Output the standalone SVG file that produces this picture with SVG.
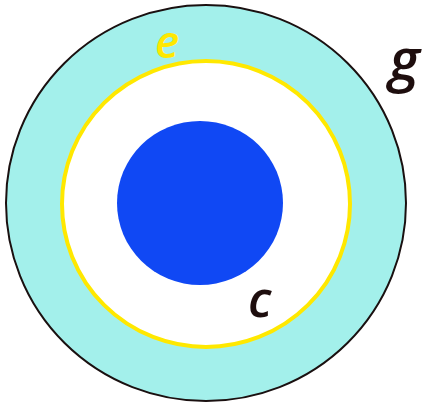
<svg xmlns="http://www.w3.org/2000/svg" width="428" height="405" viewBox="0 0 428 405">
<style>
.lbl{font-family:"Open Sans","Noto Sans","Liberation Sans",sans-serif;font-style:italic;font-weight:600}
</style>
<rect width="428" height="405" fill="#ffffff"/>
<g id="g-region">
<ellipse cx="206" cy="203" rx="200" ry="198" fill="#a3f0eb" stroke="#1a1010" stroke-width="2"/>
<text class="lbl" x="389" y="80" font-size="58" fill="#1e0e0e">g</text>
</g>
<g id="e-region">
<ellipse cx="206" cy="204" rx="144" ry="143" fill="#ffffff" stroke="#ffe800" stroke-width="4"/>
<text class="lbl" x="155" y="58" font-size="46" fill="#ffe800">e</text>
</g>
<g id="c-region">
<ellipse cx="200" cy="203" rx="83" ry="82" fill="#1048f4"/>
<text class="lbl" x="248" y="317" font-size="50" fill="#1e0e0e">c</text>
</g>
<g id="connectors"/>
</svg>
